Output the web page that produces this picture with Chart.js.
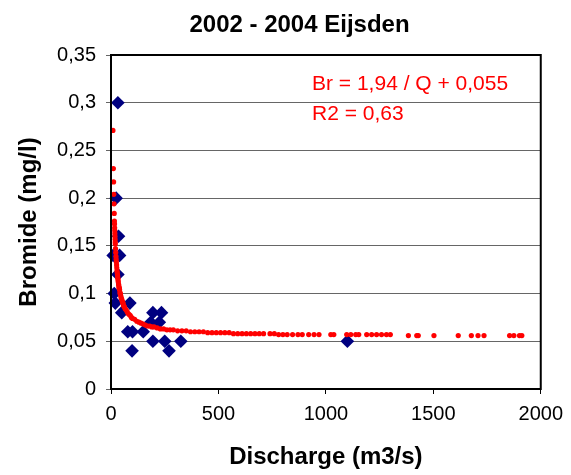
<!DOCTYPE html>
<html><head><meta charset="utf-8">
<script src="https://cdn.jsdelivr.net/npm/chart.js@4/dist/chart.umd.min.js"></script>
<style>html,body{margin:0;padding:0;background:#fff;}</style>
</head><body>
<canvas id="c" width="571" height="475"></canvas>
<script>
// Measured bromide concentrations (blue diamonds)
const measuredQ  = [32, 24, 35, 10, 40, 32, 15, 20, 88, 50, 195, 235, 185, 225, 78, 100, 150, 195, 250, 325, 98, 270, 1100];
const measuredBr = [0.30, 0.20, 0.16, 0.14, 0.14, 0.12, 0.10, 0.09, 0.09, 0.08, 0.08, 0.08, 0.07, 0.07, 0.06, 0.06, 0.06, 0.05, 0.05, 0.05, 0.04, 0.04, 0.05];

// Fitted values at observed discharges (red dots)
const fitQ = [9, 11, 12, 13, 14, 15, 16, 16.5, 17, 17.5, 18, 18.5, 19, 19.5, 20, 21, 22, 23, 24, 25, 26, 27, 28, 29, 30, 31, 32, 33, 34, 35, 36, 37, 38, 39, 40, 42, 43, 44, 46, 48, 50, 52, 54, 56, 58, 60, 62, 66, 70, 75, 80, 85, 90, 95, 100, 110, 120, 130, 140, 150, 160, 170, 180, 190, 200, 215, 230, 245, 260, 275, 290, 310, 330, 350, 370, 390, 410, 430, 450, 470, 490, 510, 530, 550, 570, 590, 610, 630, 650, 670, 690, 710, 740, 760, 780, 800, 820, 845, 870, 890, 920, 945, 968, 1023, 1037, 1097, 1116, 1139, 1153, 1190, 1213, 1236, 1259, 1282, 1300, 1384, 1423, 1430, 1503, 1616, 1677, 1708, 1736, 1855, 1875, 1901, 1912];
const fitBr = [0.271, 0.231, 0.217, 0.204, 0.194, 0.184, 0.176, 0.173, 0.169, 0.166, 0.163, 0.160, 0.157, 0.154, 0.152, 0.147, 0.143, 0.139, 0.136, 0.133, 0.130, 0.127, 0.124, 0.122, 0.120, 0.118, 0.116, 0.114, 0.112, 0.110, 0.109, 0.107, 0.106, 0.105, 0.104, 0.101, 0.100, 0.099, 0.097, 0.095, 0.094, 0.092, 0.091, 0.090, 0.088, 0.087, 0.086, 0.084, 0.083, 0.081, 0.079, 0.078, 0.077, 0.075, 0.074, 0.073, 0.071, 0.070, 0.069, 0.068, 0.067, 0.066, 0.066, 0.065, 0.065, 0.064, 0.063, 0.063, 0.062, 0.062, 0.062, 0.061, 0.061, 0.061, 0.060, 0.060, 0.060, 0.060, 0.059, 0.059, 0.059, 0.059, 0.059, 0.059, 0.058, 0.058, 0.058, 0.058, 0.058, 0.058, 0.058, 0.058, 0.058, 0.058, 0.057, 0.057, 0.057, 0.057, 0.057, 0.057, 0.057, 0.057, 0.057, 0.057, 0.057, 0.057, 0.057, 0.057, 0.057, 0.057, 0.057, 0.057, 0.057, 0.057, 0.057, 0.056, 0.056, 0.056, 0.056, 0.056, 0.056, 0.056, 0.056, 0.056, 0.056, 0.056, 0.056, 0.056];

const xTickLabels = ['0', '500', '1000', '1500', '2000'];
const yTickLabels = ['0', '0,05', '0,1', '0,15', '0,2', '0,25', '0,3', '0,35'];
const titleText = '2002 - 2004 Eijsden';
const xTitle = 'Discharge (m3/s)';
const yTitle = 'Bromide (mg/l)';
const equationLines = ['Br = 1,94 / Q + 0,055', 'R2 = 0,63'];

const FONT = '"Liberation Sans", Arial, sans-serif';

const framePlugin = {
  id: 'frame',
  afterDatasetsDraw(chart) {
    const a = chart.chartArea, ctx = chart.ctx;
    ctx.save();
    ctx.strokeStyle = '#000';
    ctx.lineWidth = 2;
    ctx.strokeRect(a.left, a.top, a.right - a.left, a.bottom - a.top);
    ctx.restore();
  }
};
const titleShift = {
  id: 'titleShift',
  afterLayout(chart) {
    const t = chart.titleBlock;
    if (t) { t.left = 28; t.right = chart.width; }
  }
};
const equationPlugin = {
  id: 'equation',
  afterDraw(chart) {
    const a = chart.chartArea, ctx = chart.ctx;
    ctx.save();
    ctx.fillStyle = '#ff0000';
    ctx.font = '21px ' + FONT;
    ctx.textAlign = 'left';
    ctx.textBaseline = 'alphabetic';
    ctx.fillText(equationLines[0], a.left + 201, a.top + 35);
    ctx.fillText(equationLines[1], a.left + 201, a.top + 65);
    ctx.restore();
  }
};

new Chart(document.getElementById('c'), {
  type: 'scatter',
  data: {
    datasets: [
      {
        label: 'fit',
        data: fitQ.map((q, i) => ({x: q, y: fitBr[i]})),
        pointStyle: 'circle',
        pointRadius: 2.6,
        pointBackgroundColor: '#ff0000',
        pointBorderWidth: 0,
        borderColor: '#ff0000',
        showLine: false,
        clip: false,
        order: 0
      },
      {
        label: 'measured',
        data: measuredQ.map((q, i) => ({x: q, y: measuredBr[i]})),
        pointStyle: 'rectRot',
        pointRadius: 6.8,
        pointBackgroundColor: '#000080',
        pointBorderWidth: 0,
        borderColor: '#000080',
        showLine: false,
        clip: false,
        order: 1
      }
    ]
  },
  options: {
    responsive: false,
    animation: false,
    devicePixelRatio: 1,
    layout: {padding: {left: 0, right: 28, top: 0, bottom: 0}},
    plugins: {
      legend: {display: false},
      tooltip: {enabled: false},
      title: {
        display: true,
        text: titleText,
        color: '#000',
        fullSize: true,
        font: {family: FONT, size: 24, weight: 'bold'},
        padding: {top: 11, bottom: 15.2}
      }
    },
    scales: {
      x: {
        type: 'linear',
        min: 0, max: 2000,
        afterFit(s) { s.height = 86; },
        ticks: {
          stepSize: 500,
          color: '#000',
          padding: 8,
          font: {family: FONT, size: 20},
          maxRotation: 0,
          callback: (v, i) => xTickLabels[i]
        },
        grid: {drawOnChartArea: false, drawTicks: true, tickLength: 5, tickColor: '#000'},
        border: {display: true, color: '#000', width: 2},
        title: {display: true, text: xTitle, color: '#000', font: {family: FONT, size: 24, weight: 'bold'}, padding: {top: 0, bottom: 3}}
      },
      y: {
        type: 'linear',
        min: 0, max: 0.35,
        afterFit(s) { s.width = 111; },
        ticks: {
          stepSize: 0.05,
          color: '#000',
          padding: 10,
          font: {family: FONT, size: 20},
          callback: (v, i) => yTickLabels[i]
        },
        grid: {color: '#666', lineWidth: 1, tickLength: 5, tickColor: '#666'},
        border: {display: true, color: '#000', width: 2},
        title: {display: true, text: yTitle, color: '#000', font: {family: FONT, size: 24, weight: 'bold'}, padding: {top: 15, bottom: 0}}
      }
    }
  },
  plugins: [framePlugin, titleShift, equationPlugin]
});
</script>
</body></html>
